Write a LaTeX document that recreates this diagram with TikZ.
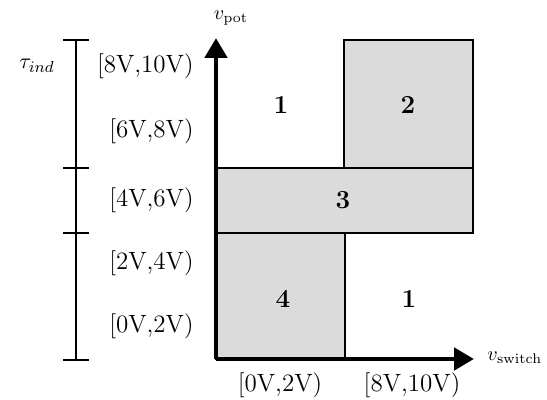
\documentclass[tikz,border=0pt]{standalone}
\usetikzlibrary{arrows.meta}
\begin{document}
\begin{tikzpicture}[x=0.5pt,y=-0.5pt,
  region/.style={draw=black,line width=1.4pt,fill=black!14},
  rng/.style={font=\fontsize{12.5}{15}\selectfont,inner sep=0pt},
  num/.style={font=\fontsize{13}{15}\selectfont\bfseries,inner sep=0pt},
  axis/.style={line width=2.4pt,-{Triangle[width=11pt,length=10pt]}},
  bar/.style={line width=1pt}]
\useasboundingbox (0,0) rectangle (547,400);
% regions
\draw[region] (344,40) rectangle (473,168);
\draw[region] (216,168) rectangle (473,233);
\draw[region] (216,233) rectangle (345,359);
% axes
\coordinate (o) at (216,359);
\coordinate (ytip) at (216,38);
\coordinate (xtip) at (474,359);
\draw[axis] (o) -- (ytip);
\draw[axis] (o) -- (xtip);
\node[inner sep=0pt,font=\fontsize{10}{12}\selectfont] (vpot) at (231,18) {$v_{\mathrm{pot}}$};
\node[inner sep=0pt,font=\fontsize{10}{12}\selectfont,anchor=west] (vsw) at (487,358) {$v_{\mathrm{switch}}$};
% left bar
\coordinate (bt) at (76,40);
\coordinate (bb) at (76,360);
\draw[bar] (bt) -- (bb);
\foreach \yy in {40,168,233,360} \draw[bar] (63,\yy) -- (89,\yy);
\node[inner sep=0pt,font=\fontsize{11}{12}\selectfont] (tau) at (37,66) {$\tau_{ind}$};
% range labels
\node[rng,anchor=east] (r5) at (194,66) {[8V,10V)};
\node[rng,anchor=east] (r4) at (194,131) {[6V,8V)};
\node[rng,anchor=east] (r3) at (194,200) {[4V,6V)};
\node[rng,anchor=east] (r2) at (194,263) {[2V,4V)};
\node[rng,anchor=east] (r1) at (194,326) {[0V,2V)};
\node[rng] (c1) at (280,385) {[0V,2V)};
\node[rng] (c5) at (412,385) {[8V,10V)};
% numbers
\node[num] (n1a) at (281,105) {1};
\node[num] (n2) at (408,105) {2};
\node[num] (n3) at (343,200) {3};
\node[num] (n4) at (283,299) {4};
\node[num] (n1b) at (409,299) {1};
\end{tikzpicture}
\end{document}
